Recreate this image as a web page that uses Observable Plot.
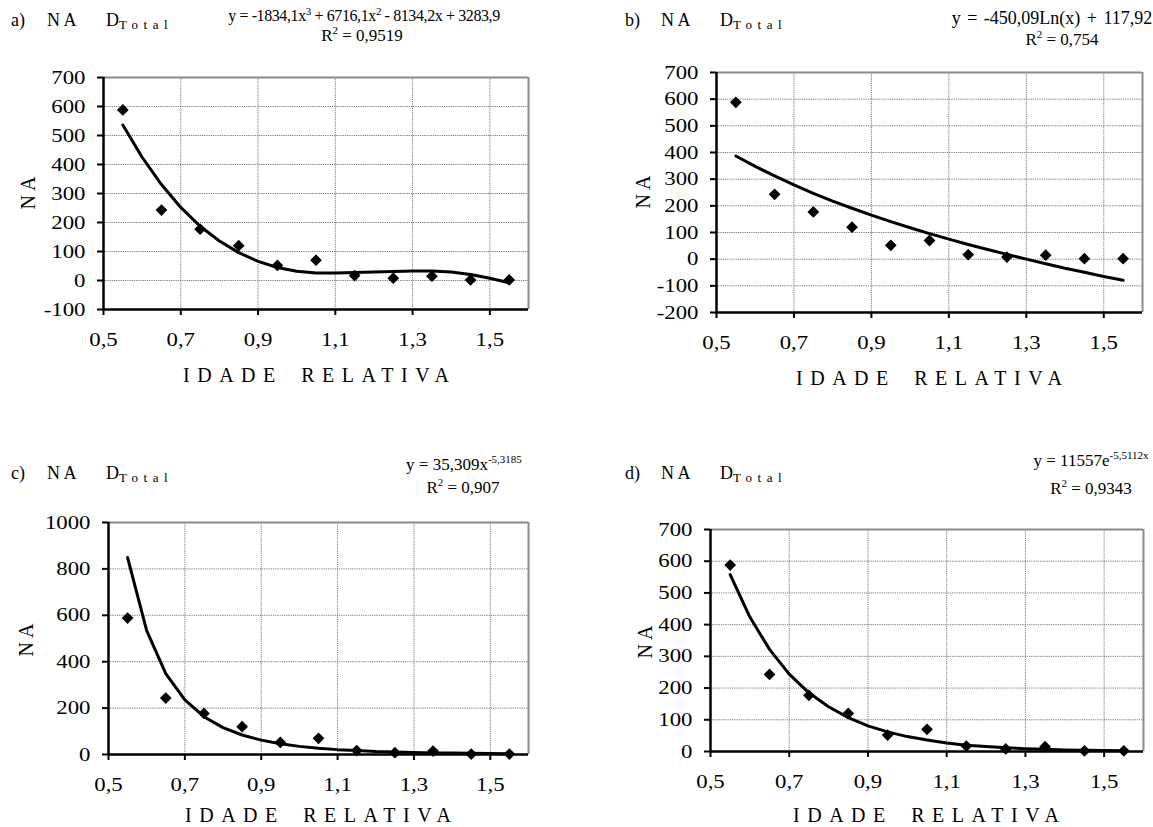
<!DOCTYPE html>
<html><head><meta charset="utf-8">
<script src="https://cdn.jsdelivr.net/npm/d3@7"></script>
<script src="https://cdn.jsdelivr.net/npm/@observablehq/plot@0.6"></script>
<style>
body{margin:0;background:#fff;}
#root{position:relative;width:1153px;height:827px;font-family:"Liberation Serif","Times New Roman",serif;color:#000;overflow:hidden;}
.panel{position:absolute;}
.t{position:absolute;white-space:nowrap;line-height:1;}
.c{transform:translateX(-50%);}
sup{font-size:11px;position:relative;top:-2px;vertical-align:top;line-height:1;}
sub.tot{font-size:13px;letter-spacing:5.5px;vertical-align:baseline;position:relative;top:3px;}
</style></head><body><div id="root"></div>
<script>
// Observed points (same in all four panels)
const relAge = [0.55, 0.65, 0.75, 0.85, 0.95, 1.05, 1.15, 1.25, 1.35, 1.45, 1.55];
const naObserved = [588, 243, 177, 120, 52, 70, 17, 8, 15, 2, 2];

// Trend-line points
const fitX = [0.55, 0.6, 0.65, 0.7, 0.75, 0.8, 0.85, 0.9, 0.95, 1.0, 1.05, 1.1, 1.15, 1.2, 1.25, 1.3, 1.35, 1.4, 1.45, 1.5, 1.55];
const fitA = [536, 425, 331, 252, 187, 136, 96, 66, 45, 32, 26, 26, 28, 29, 31, 33, 33, 29, 21, 8, -8];
const fitB = [387, 348, 312, 279, 247, 218, 191, 165, 141, 118, 96, 75, 55, 36, 18, 0, -17, -34, -49, -65, -79];
const fitC = [849, 534, 349, 235, 163, 116, 84, 62, 46, 35, 27, 21, 17, 13, 11, 9, 7, 6, 5, 4, 3];
const fitD = [558, 424, 322, 244, 185, 141, 107, 81, 62, 47, 36, 27, 20, 16, 12, 9, 7, 5, 4, 3, 2];

// Tick labels
const xTicks = [0.5, 0.7, 0.9, 1.1, 1.3, 1.5];
const yTicksA = [-100, 0, 100, 200, 300, 400, 500, 600, 700];
const yTicksB = [-200, -100, 0, 100, 200, 300, 400, 500, 600, 700];
const yTicksC = [0, 200, 400, 600, 800, 1000];
const yTicksD = [0, 100, 200, 300, 400, 500, 600, 700];

// Texts
const panelLetters = ["a)", "b)", "c)", "d)"];
const equations = [
  'y = -1834,1x<sup>3</sup> + 6716,1x<sup>2</sup> - 8134,2x + 3283,9',
  'y = -450,09Ln(x) + 117,92',
  'y = 35,309x<sup>-5,3185</sup>',
  'y = 11557e<sup>-5,5112x</sup>'
];
const r2Texts = ['0,9519', '0,754', '0,907', '0,9343'];
const yLabel = "N A";
const xLabel = "IDADE RELATIVA";

const obs = relAge.map((x, i) => ({x, y: naObserved[i]}));
const fits = [fitA, fitB, fitC, fitD].map(f => fitX.map((x, i) => ({x, y: f[i]})));
const yTickSets = [yTicksA, yTicksB, yTicksC, yTicksD];

// layout per panel (page coords)
const layout = [
  {left: 0, top: 0, w: 576, h: 413, ml: 103, mr: 48, mt: 77, mb: 104,
   head: {x: 11, cy: 20}, eq: {cx: 364, cy: 16, fs: 16, ls: "-0.4px"}, r2: {cx: 362, cy: 35}, yl: {cx: 28, cy: 193}, xl: {cx: 316, cy: 375}},
  {left: 576, top: 0, w: 577, h: 413, ml: 140, mr: 11, mt: 72, mb: 101,
   head: {x: 625, cy: 20}, eq: {cx: 1052, cy: 18, fs: 18, ws: "2px"}, r2: {cx: 1062, cy: 39}, yl: {cx: 643, cy: 192}, xl: {cx: 929, cy: 378}},
  {left: 0, top: 413, w: 576, h: 414, ml: 108, mr: 48, mt: 109, mb: 73,
   head: {x: 11, cy: 473}, eq: {cx: 464, cy: 464, fs: 17}, r2: {cx: 463, cy: 487}, yl: {cx: 26, cy: 640}, xl: {cx: 318, cy: 815}},
  {left: 576, top: 413, w: 577, h: 414, ml: 134, mr: 10, mt: 116, mb: 76,
   head: {x: 625, cy: 473}, eq: {cx: 1091, cy: 460, fs: 17}, r2: {cx: 1091, cy: 488}, yl: {cx: 645, cy: 642}, xl: {cx: 926, cy: 815}}
];

const root = document.getElementById("root");
const fmtX = d => d.toFixed(1).replace(".", ",");
const serif = "Liberation Serif, Times New Roman, serif";
const gridStyle = {stroke: "#7a7a7a", strokeOpacity: 1, strokeWidth: 1, strokeDasharray: "1.2,1"};

layout.forEach((L, k) => {
  const yt = yTickSets[k];
  const yDom = [yt[0], yt[yt.length - 1]];
  const plot = Plot.plot({
    width: L.w, height: L.h,
    marginLeft: L.ml, marginRight: L.mr, marginTop: L.mt, marginBottom: L.mb,
    style: {fontSize: "19px", fontFamily: serif, color: "#000", background: "transparent", overflow: "visible"},
    x: {domain: [0.5, 1.6]},
    y: {domain: yDom},
    marks: [
      Plot.gridX(xTicks.slice(1), gridStyle),
      Plot.gridY(yt.slice(1, -1), gridStyle),
      Plot.ruleY([yDom[1]], {stroke: "#8a8a8a", strokeWidth: 2}),
      Plot.ruleX([1.6], {stroke: "#8a8a8a", strokeWidth: 2}),
      Plot.axisX(xTicks, {tickSize: 6, tickPadding: 17, tickFormat: fmtX, strokeWidth: 2, label: null, fontFamily: serif, fontVariant: "normal"}),
      Plot.axisY(yt, {tickSize: 6, tickPadding: 12, tickFormat: d => String(d), strokeWidth: 2, label: null, fontFamily: serif, fontVariant: "normal"}),
      Plot.ruleX([0.5], {stroke: "#000", strokeWidth: 2.5}),
      Plot.ruleY([yDom[0]], {stroke: "#000", strokeWidth: 2.5}),
      Plot.line(fits[k], {x: "x", y: "y", stroke: "#000", strokeWidth: 3, strokeLinejoin: "round"}),
      Plot.dot(obs, {x: "x", y: "y", symbol: "diamond2", r: 5.3, fill: "#000", stroke: "none"})
    ]
  });
  plot.classList.add("panel");
  plot.style.left = L.left + "px";
  plot.style.top = L.top + "px";
  root.appendChild(plot);

  const add = (html, cls, x, cy, fs, extra) => {
    const d = document.createElement("div");
    d.className = "t " + cls;
    d.innerHTML = html;
    d.style.left = x + "px";
    d.style.top = (cy - fs * 0.5) + "px";
    d.style.fontSize = fs + "px";
    if (extra) Object.assign(d.style, extra);
    root.appendChild(d);
    return d;
  };
  // header
  add(panelLetters[k], "", L.head.x, L.head.cy, 18);
  add("N A", "", L.head.x + 36, L.head.cy, 18);
  add('D<sub class="tot">Total</sub>', "", L.head.x + 95, L.head.cy, 18);
  // equation & R2
  add(equations[k], "c", L.eq.cx, L.eq.cy, L.eq.fs, {letterSpacing: L.eq.ls || "0px", wordSpacing: L.eq.ws || "0px"});
  add('R<sup>2</sup> = ' + r2Texts[k], "c", L.r2.cx, L.r2.cy, 17);
  // y label
  add(yLabel, "", L.yl.cx, L.yl.cy, 20, {transform: "translate(-50%,-50%) rotate(-90deg)", top: L.yl.cy + "px"});
  // x label
  add(xLabel, "c", L.xl.cx, L.xl.cy, 20, {letterSpacing: "7.5px", wordSpacing: "6px", paddingLeft: "7.5px"});
});

// tick labels in the reference are drawn wide: stretch them horizontally about their anchor
root.querySelectorAll('g[aria-label$="tick label"] text').forEach(t => {
  t.setAttribute("font-family", serif);
  const tr = t.getAttribute("transform");
  if (tr) t.setAttribute("transform", tr + " scale(1.2,1)");
  else {
    const g = t.parentNode;
    const gt = g.getAttribute("transform") || "";
    if (!g.__stretched) { g.setAttribute("transform", gt); g.__stretched = true; }
  }
});
</script>
</body></html>
